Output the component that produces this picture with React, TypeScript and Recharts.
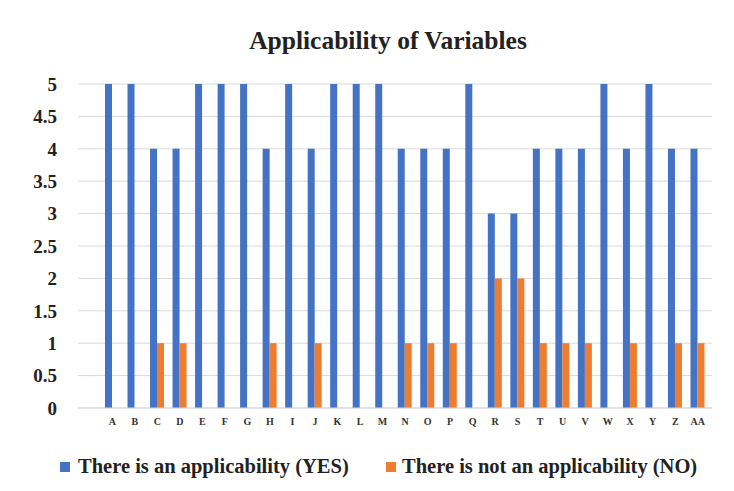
import React from 'react';
import { BarChart, Bar, XAxis, YAxis, CartesianGrid, Legend } from 'recharts';

const categories = ['A','B','C','D','E','F','G','H','I','J','K','L','M','N','O','P','Q','R','S','T','U','V','W','X','Y','Z','AA'];
const yesValues = [5,5,4,4,5,5,5,4,5,4,5,5,5,4,4,4,5,3,3,4,4,4,5,4,5,4,4];
const noValues = [0,0,1,1,0,0,0,1,0,1,0,0,0,1,1,1,0,2,2,1,1,1,0,1,0,1,1];
const yTicks = [0,0.5,1,1.5,2,2.5,3,3.5,4,4.5,5];
const seriesNames = ['There is an applicability (YES)', 'There is not an applicability (NO)'];
const colors = ['#4472C4', '#ED7D31'];

const data = categories.map((c, i) => ({ name: c, yes: yesValues[i], no: noValues[i] }));

const FONT = "'Times New Roman', 'Liberation Serif', serif";

const LegendContent = () => (
  <div style={{ height: 30, width: 734, position: 'relative', fontFamily: FONT, fontWeight: 'bold', fontSize: 20.5, color: '#222' }}>
    <div style={{ position: 'absolute', left: 60, top: 2, display: 'flex', alignItems: 'center', whiteSpace: 'nowrap' }}>
      <span style={{ display: 'inline-block', width: 10, height: 10, background: colors[0], marginRight: 8 }} />
      <span>{seriesNames[0]}</span>
    </div>
    <div style={{ position: 'absolute', left: 386, top: 2, display: 'flex', alignItems: 'center', whiteSpace: 'nowrap' }}>
      <span style={{ display: 'inline-block', width: 10, height: 10, background: colors[1], marginRight: 6 }} />
      <span>{seriesNames[1]}</span>
    </div>
  </div>
);

export default function App() {
  return (
    <div style={{ position: 'absolute', left: 0, top: 0, width: 734, height: 491, background: '#fff' }}>
      <div style={{ position: 'absolute', left: 0, top: 26, width: 776, textAlign: 'center', fontFamily: FONT, fontWeight: 'bold', fontSize: 25.5, color: '#222' }}>
        Applicability of Variables
      </div>
      <BarChart width={734} height={491} data={data} margin={{ top: 84, right: 22, bottom: 8, left: 0 }} barGap={0} barSize={7}>
        <CartesianGrid vertical={false} stroke="#D9D9D9" />
        <XAxis dataKey="name" tickLine={false} axisLine={{ stroke: '#D9D9D9' }} height={45} interval={0} tickMargin={4}
          padding={{ left: 23, right: 3 }}
          tick={{ fontFamily: FONT, fontWeight: 'bold', fontSize: 10, fill: '#333' }} />
        <YAxis domain={[0, 5]} ticks={yTicks} width={78} tickLine={false} axisLine={false} tickMargin={15}
          tick={{ fontFamily: FONT, fontWeight: 'bold', fontSize: 19, fill: '#222' }} />
        <Legend verticalAlign="bottom" content={<LegendContent />} wrapperStyle={{ left: 0, width: 734 }} />
        <Bar dataKey="yes" name={seriesNames[0]} fill={colors[0]} isAnimationActive={false} />
        <Bar dataKey="no" name={seriesNames[1]} fill={colors[1]} isAnimationActive={false} />
      </BarChart>
    </div>
  );
}
